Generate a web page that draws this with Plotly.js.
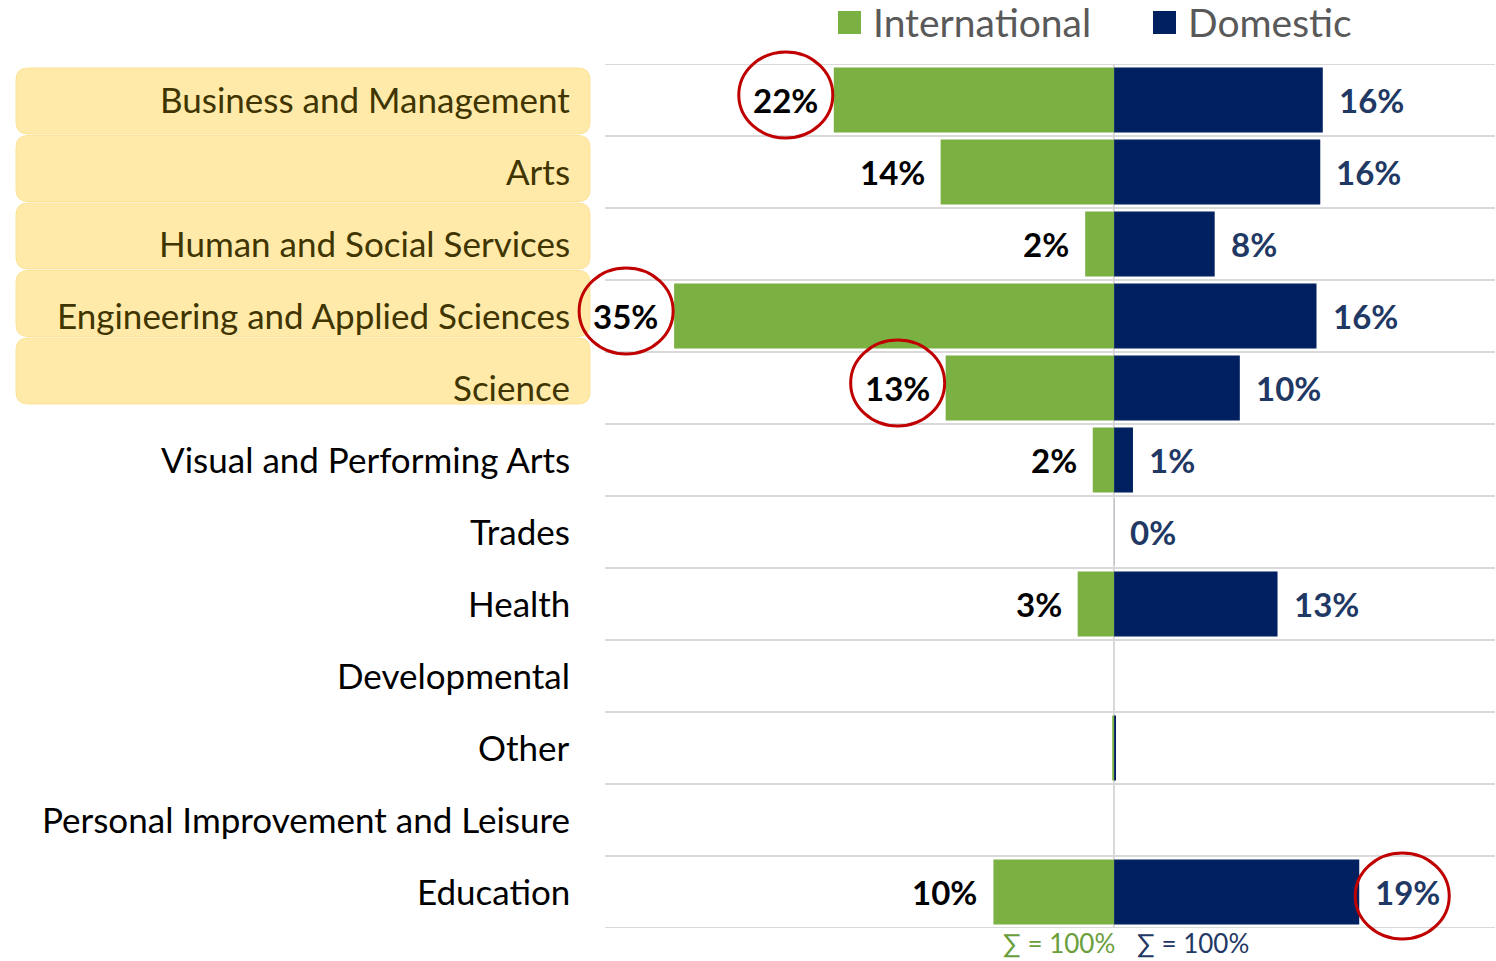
<!DOCTYPE html>
<html>
<head>
<meta charset="utf-8">
<script src="https://cdn.plot.ly/plotly-3.0.1.min.js"></script>
<style>html,body{margin:0;padding:0;background:#fff;}#chart{width:1496px;height:961px;}</style>
</head>
<body>
<div id="chart"></div>
<script>
// ---- data ----
const categories = ["Business and Management","Arts","Human and Social Services","Engineering and Applied Sciences","Science","Visual and Performing Arts","Trades","Health","Developmental","Other","Personal Improvement and Leisure","Education"];
const international = [22.3, 13.8, 2.3, 35.0, 13.4, 1.7, 0, 2.9, 0, 0.15, 0, 9.6];
const domestic = [16.6, 16.4, 8.0, 16.1, 10.0, 1.5, 0.01, 13.0, 0, 0.15, 0, 19.5];
const intlLabels = ["22%","14%","2%","35%","13%","2%","","3%","","","","10%"];
const domLabels = ["16%","16%","8%","16%","10%","1%","0%","13%","","","","19%"];
const highlightedCategories = [0,1,2,3,4];
const circled = [{row:0, series:"International"},{row:3, series:"International"},{row:4, series:"International"},{row:11, series:"Domestic"}];
const sumLabels = {International:"∑ = 100%", Domestic:"∑ = 100%"};
const seriesNames = ["International","Domestic"];

// ---- styles ----
const GREEN = "#7AB142", NAVY = "#002060", NAVYTXT = "#1F3864", GRID = "#D9D9D9";
const FONT = "Lato, 'Open Sans', sans-serif";
const XMIN = -40.5, XMAX = 30.3;
const PL = 605, PW = 890, PT = 64, PH = 864, H = 961;
const idx = categories.map((_, i) => i);
const n = categories.length;

const traces = [
  {type:"bar", orientation:"h", name:seriesNames[0], y:idx, x:international.map(v => -v),
   marker:{color:GREEN}, width:0.9, hoverinfo:"skip"},
  {type:"bar", orientation:"h", name:seriesNames[1], y:idx, x:domestic,
   marker:{color:NAVY}, width:0.9, hoverinfo:"skip"}
];

const shapes = [];
const annotations = [];
const px2paperX = p => (p - PL) / PW;
const px2paperY = p => (PT + PH - p) / PH;

// row separators
for (let k = 0; k <= n; k++) {
  shapes.push({type:"line", xref:"paper", yref:"y", x0:0, x1:1, y0:k-0.5, y1:k-0.5,
    line:{color:GRID, width:2}, layer:"below"});
}
// highlight boxes (rounded)
const bx0 = px2paperX(16), bx1 = px2paperX(590), rx = 12/PW, ry = 12/PH;
highlightedCategories.forEach((i, j) => {
  const topPx = 68 + 67.5*j, botPx = topPx + 66;
  const t = px2paperY(topPx), b = px2paperY(botPx);
  const p = `M ${bx0+rx},${t} L ${bx1-rx},${t} Q ${bx1},${t} ${bx1},${t-ry} L ${bx1},${b+ry} Q ${bx1},${b} ${bx1-rx},${b} L ${bx0+rx},${b} Q ${bx0},${b} ${bx0},${b+ry} L ${bx0},${t-ry} Q ${bx0},${t} ${bx0+rx},${t} Z`;
  shapes.push({type:"path", xref:"paper", yref:"paper", path:p, fillcolor:"#FFEAAA",
    line:{color:"#FDE397", width:1}, layer:"below"});
});

// category labels
categories.forEach((c, i) => {
  annotations.push({xref:"paper", yref:"y", x:0, y:i, xanchor:"right", yanchor:"middle",
    xshift:-33, yshift:1, text:c, showarrow:false,
    font:{family:FONT, size:35, color: highlightedCategories.includes(i) ? "#403500" : "#000000"}});
});

// value labels
international.forEach((v, i) => {
  if (!intlLabels[i]) return;
  annotations.push({xref:"x", yref:"y", x:-v, y:i, xanchor:"right", yanchor:"middle",
    xshift:-14, yshift:0, text:intlLabels[i], showarrow:false,
    font:{family:FONT, size:33, color:"#000000", weight:"bold"}});
});
domestic.forEach((v, i) => {
  if (!domLabels[i]) return;
  annotations.push({xref:"x", yref:"y", x:v, y:i, xanchor:"left", yanchor:"middle",
    xshift:14, yshift:0, text:domLabels[i], showarrow:false,
    font:{family:FONT, size:33, color:NAVYTXT, weight:"bold"}});
});

// circles (paper refs so they are not clipped by the plot area)
circled.forEach(c => {
  const intl = c.series === "International";
  const v = intl ? -international[c.row] : domestic[c.row];
  const ax = (v - XMIN) / (XMAX - XMIN);
  const ay = 1 - (c.row + 0.5) / n;
  const cx = intl ? -48 : 43;
  const cy = intl ? 5 : -4;
  shapes.push({type:"circle", xref:"paper", yref:"paper", xsizemode:"pixel", ysizemode:"pixel",
    xanchor:ax, yanchor:ay, x0:cx-47, x1:cx+47, y0:cy-43, y1:cy+43,
    line:{color:"#C00000", width:3}, layer:"above"});
});

// sum labels
annotations.push({xref:"x", yref:"paper", x:0, y:px2paperY(H), xanchor:"right", yanchor:"bottom", xshift:3, yshift:0,
  text:sumLabels.International, showarrow:false, font:{family:FONT, size:26, color:"#6A9E3A"}});
annotations.push({xref:"x", yref:"paper", x:0, y:px2paperY(H), xanchor:"left", yanchor:"bottom", xshift:21, yshift:0,
  text:sumLabels.Domestic, showarrow:false, font:{family:FONT, size:26, color:NAVYTXT}});

// custom legend
const legendItems = [{name:seriesNames[0], color:GREEN, sx0:838}, {name:seriesNames[1], color:NAVY, sx0:1153}];
legendItems.forEach(li => {
  shapes.push({type:"rect", xref:"paper", yref:"paper", x0:px2paperX(li.sx0), x1:px2paperX(li.sx0+23),
    y0:px2paperY(34), y1:px2paperY(11), fillcolor:li.color, line:{width:0}});
  annotations.push({xref:"paper", yref:"paper", x:px2paperX(li.sx0+33), y:px2paperY(22),
    xanchor:"left", yanchor:"middle", text:li.name, showarrow:false,
    font:{family:FONT, size:39, color:"#595959"}});
});

const layout = {
  width:1496, height:961,
  margin:{l:PL, r:1496-PL-PW, t:PT, b:H-PT-PH, pad:0},
  paper_bgcolor:"#ffffff", plot_bgcolor:"#ffffff",
  barmode:"relative", bargap:0.1,
  showlegend:false,
  xaxis:{range:[XMIN, XMAX], showgrid:false, zeroline:true, zerolinecolor:GRID, zerolinewidth:2,
    showticklabels:false, ticks:"", fixedrange:true},
  yaxis:{range:[n-0.5, -0.5], showgrid:false, zeroline:false, showticklabels:false, ticks:"", fixedrange:true},
  shapes:shapes, annotations:annotations,
  font:{family:FONT}
};

Plotly.newPlot("chart", traces, layout, {displayModeBar:false, staticPlot:true});
</script>
</body>
</html>
